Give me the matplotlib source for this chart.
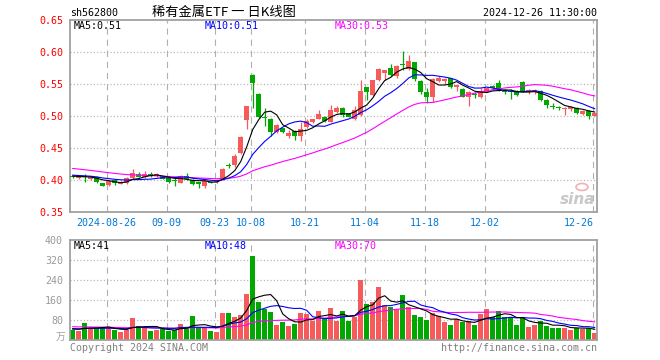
import matplotlib
matplotlib.use('Agg')
import matplotlib.pyplot as plt
import matplotlib.transforms as mtrans
from matplotlib.patches import Ellipse
import numpy as np
import pandas as pd

plt.rcParams['font.family'] = ['DejaVu Sans Mono']
plt.rcParams['lines.scale_dashes'] = False

# ---------------- data ----------------
holidays = ['2024-09-16', '2024-09-17', '2024-10-01', '2024-10-02', '2024-10-03',
            '2024-10-04', '2024-10-07']
dates = [d.strftime('%Y-%m-%d') for d in pd.bdate_range('2024-08-16', '2024-12-26')
         if d.strftime('%Y-%m-%d') not in holidays]

opens = [0.406, 0.403, 0.405, 0.401, 0.405, 0.395, 0.392, 0.400, 0.394, 0.395,
         0.403, 0.409, 0.404, 0.408, 0.407, 0.406, 0.403, 0.400, 0.396, 0.406,
         0.400, 0.3955, 0.391, 0.3975, 0.397, 0.401, 0.424, 0.423, 0.442, 0.493,
         0.564, 0.534, 0.498, 0.495, 0.475, 0.481, 0.468, 0.477, 0.468, 0.483,
         0.490, 0.496, 0.499, 0.491, 0.507, 0.513, 0.504, 0.495, 0.502, 0.545,
         0.533, 0.556, 0.567, 0.5745, 0.563, 0.581, 0.573, 0.584, 0.554, 0.537,
         0.529, 0.554, 0.554, 0.559, 0.545, 0.542, 0.529, 0.535, 0.529, 0.538,
         0.547, 0.551, 0.5385, 0.539, 0.539, 0.5526, 0.538, 0.538, 0.539, 0.525,
         0.5146, 0.5136, 0.5104, 0.511, 0.513, 0.503, 0.508, 0.5005]
highs = [0.407, 0.406, 0.409, 0.406, 0.406, 0.396, 0.400, 0.401, 0.398, 0.404,
         0.417, 0.412, 0.414, 0.412, 0.411, 0.407, 0.404, 0.403, 0.408, 0.411,
         0.401, 0.397, 0.400, 0.398, 0.401, 0.418, 0.427, 0.440, 0.468, 0.516,
         0.565, 0.536, 0.513, 0.497, 0.488, 0.482, 0.478, 0.478, 0.490, 0.495,
         0.496, 0.509, 0.500, 0.517, 0.515, 0.514, 0.505, 0.515, 0.556, 0.546,
         0.557, 0.575, 0.572, 0.581, 0.580, 0.602, 0.595, 0.585, 0.556, 0.543,
         0.559, 0.563, 0.559, 0.560, 0.549, 0.543, 0.539, 0.538, 0.543, 0.546,
         0.548, 0.557, 0.542, 0.542, 0.541, 0.554, 0.542, 0.542, 0.540, 0.526,
         0.521, 0.516, 0.514, 0.515, 0.514, 0.509, 0.509, 0.505]
lows = [0.403, 0.402, 0.397, 0.400, 0.396, 0.390, 0.390, 0.392, 0.393, 0.393,
        0.402, 0.404, 0.403, 0.404, 0.405, 0.401, 0.396, 0.390, 0.395, 0.400,
        0.392, 0.387, 0.388, 0.395, 0.396, 0.400, 0.419, 0.421, 0.440, 0.479,
        0.513, 0.497, 0.485, 0.469, 0.474, 0.473, 0.465, 0.463, 0.461, 0.482,
        0.489, 0.495, 0.490, 0.490, 0.504, 0.499, 0.498, 0.494, 0.500, 0.525,
        0.531, 0.555, 0.556, 0.563, 0.560, 0.572, 0.572, 0.555, 0.535, 0.521,
        0.522, 0.553, 0.5495, 0.544, 0.539, 0.529, 0.516, 0.528, 0.528, 0.537,
        0.540, 0.539, 0.534, 0.527, 0.531, 0.537, 0.534, 0.534, 0.523, 0.513,
        0.511, 0.510, 0.5016, 0.508, 0.503, 0.502, 0.495, 0.500]
closes = [0.404, 0.405, 0.404, 0.404, 0.397, 0.391, 0.399, 0.395, 0.397, 0.403,
          0.411, 0.405, 0.409, 0.407, 0.408, 0.402, 0.397, 0.399, 0.406, 0.401,
          0.394, 0.3945, 0.399, 0.396, 0.400, 0.417, 0.422, 0.438, 0.467, 0.515,
          0.552, 0.499, 0.497, 0.475, 0.486, 0.475, 0.473, 0.468, 0.480, 0.492,
          0.495, 0.503, 0.492, 0.509, 0.513, 0.502, 0.499, 0.509, 0.539, 0.537,
          0.556, 0.573, 0.572, 0.564, 0.578, 0.580, 0.586, 0.558, 0.538, 0.529,
          0.558, 0.559, 0.558, 0.546, 0.548, 0.530, 0.537, 0.533, 0.539, 0.544,
          0.543, 0.540, 0.5375, 0.538, 0.533, 0.538, 0.5406, 0.541, 0.525, 0.517,
          0.514, 0.513, 0.513, 0.5146, 0.504, 0.508, 0.5005, 0.504]
volumes = [41, 37, 68, 48, 48, 48, 48, 41, 32, 41,
           88, 55, 51, 35, 41, 45, 37, 41, 64, 48,
           96, 51, 48, 35, 32, 108, 108, 92, 99, 184,
           336, 152, 125, 112, 60, 72, 56, 64, 107, 104,
           77, 117, 83, 128, 75, 115, 75, 93, 240, 144,
           151, 211, 139, 133, 123, 179, 131, 99, 91, 80,
           107, 97, 71, 61, 83, 71, 77, 61, 104, 124,
           91, 115, 91, 91, 61, 88, 51, 61, 78, 57,
           50, 50, 50, 42, 50, 46, 48, 28]

# closes / volumes before the visible window (only used to warm up the moving averages)
prior_closes = [0.433, 0.436, 0.434, 0.431, 0.432, 0.429, 0.430, 0.427, 0.428, 0.426,
                0.420, 0.418, 0.419, 0.416, 0.417, 0.414, 0.415, 0.413, 0.412, 0.414,
                0.411, 0.409, 0.410, 0.408, 0.407, 0.409, 0.406, 0.405, 0.407]
prior_volumes = [62, 58, 70, 55, 60, 52, 66, 58, 54, 61,
                 57, 50, 63, 55, 52, 59, 48, 56, 53, 50,
                 47, 52, 44, 49, 46, 43, 48, 42, 45]

tick_dates = ['2024-08-26', '2024-09-09', '2024-09-23', '2024-10-08', '2024-10-21',
              '2024-11-04', '2024-11-18', '2024-12-02', '2024-12-26']
tick_labels = ['2024-08-26', '09-09', '09-23', '10-08', '10-21', '11-04', '11-18',
               '12-02', '12-26']
price_ticks = [0.35, 0.40, 0.45, 0.50, 0.55, 0.60, 0.65]
vol_ticks = [80, 160, 240, 320, 400]

ma_price_text = ['MA5:0.51', 'MA10:0.51', 'MA30:0.53']
ma_vol_text = ['MA5:41', 'MA10:48', 'MA30:70']
title = '稀有金属ETF 一 日K线图'
code = 'sh562800'
stamp = '2024-12-26 11:30:00'

# ---------------- derived ----------------
n = len(closes)
x = np.arange(n)
o = np.array(opens); h = np.array(highs); l = np.array(lows); c = np.array(closes)
v = np.array(volumes)
RED = '#f65a5a'
GREEN = '#00a800'
up = c >= o
cols = [RED if u else GREEN for u in up]

full_c = pd.Series(prior_closes + closes)
full_v = pd.Series(prior_volumes + volumes)
k0 = len(prior_closes)
ma_c = {p: full_c.rolling(p, min_periods=1).mean().values[k0:] for p in (5, 10, 30)}
ma_v = {p: full_v.rolling(p, min_periods=1).mean().values[k0:] for p in (5, 10, 30)}
ma_cols = {5: '#000000', 10: '#0000ff', 30: '#ff00ff'}

W, H = 660, 360
fig = plt.figure(figsize=(W / 100, H / 100), dpi=100)
L, R = 70, 597
ax = fig.add_axes([L / W, 1 - 212 / H, (R - L) / W, 192 / H])
axv = fig.add_axes([L / W, 1 - 340 / H, (R - L) / W, 100 / H])

xlim = (-0.45, n - 1 + 0.38)
tick_idx = [dates.index(d) - 0.33 for d in tick_dates]
grid_c = '#b0b0b0'

for a in (ax, axv):
    a.set_xlim(*xlim)
    for s in a.spines.values():
        s.set_color('#a0a0a0')
        s.set_linewidth(1.3)
    a.tick_params(length=0)
    a.set_xticks([])
    for t in tick_idx:
        a.axvline(t, color='#b0b0b0', lw=0.8, linestyle=(0, (4.5, 3.5)), zorder=0)

# ---- price panel ----
ax.set_ylim(0.35, 0.65)
for y in price_ticks[1:-1]:
    ax.axhline(y, color=grid_c, lw=0.9, linestyle=(0, (0.8, 1.6)), zorder=0)
ax.vlines(x, l, h, colors=cols, lw=0.9, zorder=2)
body = np.maximum(np.abs(c - o), 0.0016)
ax.bar(x, body, bottom=np.minimum(o, c), width=0.8, color=cols, zorder=3, linewidth=0)
for p in (30, 10, 5):
    ax.plot(x, ma_c[p], color=ma_cols[p], lw=0.8, zorder=4)
ax.set_yticks(price_ticks)
ax.set_yticklabels(['%.2f' % t for t in price_ticks], color='#ff0000', fontsize=7.2)
ax.tick_params(axis='y', pad=5)

trans = mtrans.blended_transform_factory(ax.transData, ax.transAxes)
for i, (t, lab) in enumerate(zip(tick_idx, tick_labels)):
    ha = 'right' if i == len(tick_labels) - 1 else 'center'
    xx = t + (0.2 if ha == 'right' else 0)
    ax.text(xx, -0.055, lab, transform=trans, ha=ha, va='center',
            color='#0078d7', fontsize=7.2)

# MA labels
for txt, px, col in zip(ma_price_text, (74, 205, 335), ('#000000', '#0000ff', '#ff00ff')):
    fig.text(px / W, 1 - 26 / H, txt, color=col, fontsize=7.2, va='center', ha='left')
for txt, px, col in zip(ma_vol_text, (74, 205, 335), ('#000000', '#0000ff', '#ff00ff')):
    fig.text(px / W, 1 - 246 / H, txt, color=col, fontsize=7.2, va='center', ha='left')

# ---- volume panel ----
axv.set_ylim(0, 400)
for y in vol_ticks[:-1]:
    axv.axhline(y, color=grid_c, lw=0.9, linestyle=(0, (0.8, 1.6)), zorder=0)
axv.bar(x, v, width=0.83, color=cols, zorder=2, linewidth=0)
for p in (30, 10, 5):
    axv.plot(x, ma_v[p], color=ma_cols[p], lw=0.8, zorder=4)
axv.set_yticks(vol_ticks)
axv.set_yticklabels([str(t) for t in vol_ticks], color='#9a9a9a', fontsize=7.2)
axv.tick_params(axis='y', pad=5)
fig.text(65 / W, 1 - 337 / H, '万', color='#a0a0a0', fontsize=7,
         family=['Noto Sans CJK SC'], ha='right', va='center')

# ---- header / footer ----
fig.text(70 / W, 1 - 13 / H, code, fontsize=7.2, color='#000000', va='center', ha='left')
fig.text(224 / W, 1 - 12 / H, title, fontsize=9.5, color='#000000', va='center', ha='center',
         family=['Noto Sans CJK SC', 'DejaVu Sans'])
fig.text(597 / W, 1 - 13 / H, stamp, fontsize=7.2, color='#000000', va='center', ha='right')
fig.text(70 / W, 1 - 348 / H, 'Copyright 2024 SINA.COM', fontsize=7.2, color='#808080',
         va='center', ha='left')
fig.text(597 / W, 1 - 348 / H, 'http://finance.sina.com.cn', fontsize=7.2, color='#808080',
         va='center', ha='right')

# sina watermark
fig.text(578 / W, 1 - 200 / H, 'sina', fontsize=11, color='#c8c8c8', style='italic',
         weight='bold', family=['DejaVu Sans'], ha='center', va='center')
fig.patches.append(Ellipse((582 / W, 1 - 187 / H), 12 / W, 7 / H, transform=fig.transFigure,
                           facecolor='none', edgecolor='#f2b0b0', lw=1.2))

fig.savefig('out.png', dpi=100)
